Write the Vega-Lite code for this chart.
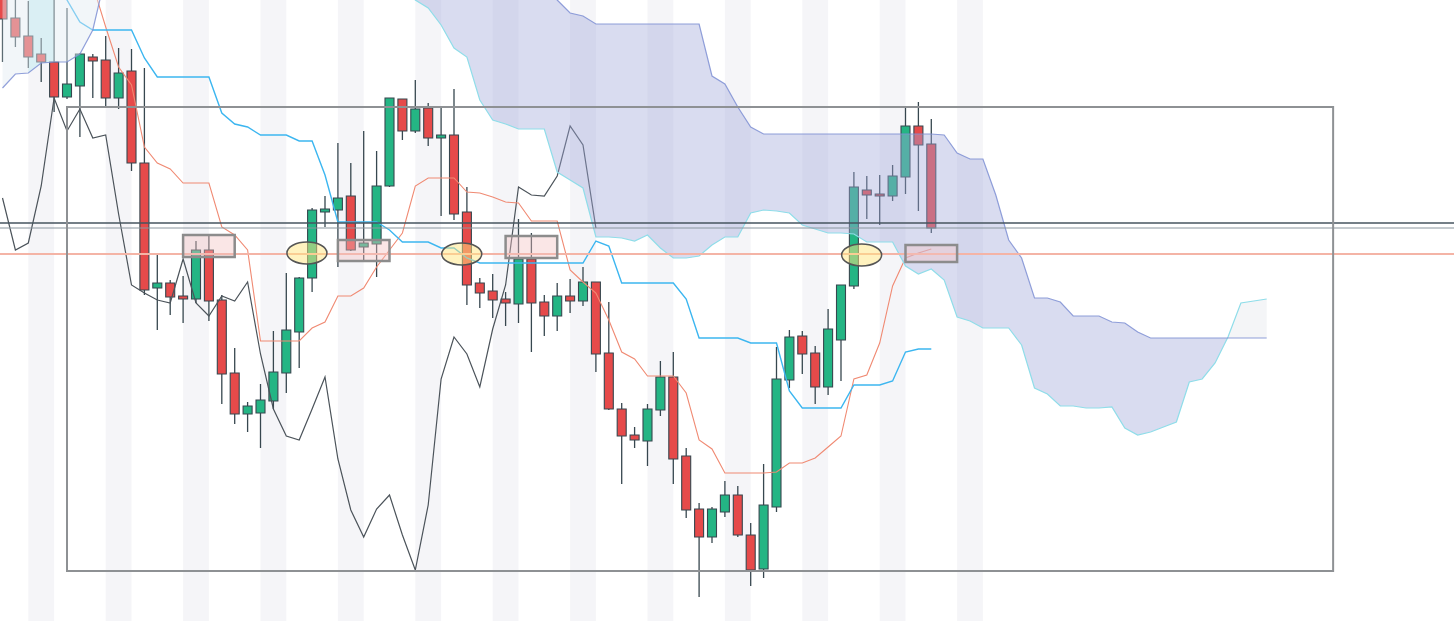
{
"$schema": "https://vega.github.io/schema/vega-lite/v6.json",
"width": 1454, "height": 621, "padding": 0, "autosize": {"type": "none"},
"background": "#ffffff",
"config": {"view": {"stroke": null}, "scale": {"continuousPadding": 0}},
"datasets": {
"bands": [{"s":2,"e":4},{"s":8,"e":10},{"s":14,"e":16},{"s":20,"e":22},{"s":26,"e":28},{"s":32,"e":34},{"s":38,"e":40},{"s":44,"e":46},{"s":50,"e":52},{"s":56,"e":58},{"s":62,"e":64},{"s":68,"e":70},{"s":74,"e":76}],
"candles": [
{"i":0,"o":-10,"h":-20,"l":62,"c":19},{"i":1,"o":18,"h":0,"l":47,"c":37},{"i":2,"o":36,"h":1,"l":68,"c":57},{"i":3,"o":54,"h":38,"l":82,"c":62},{"i":4,"o":62,"h":-5,"l":112,"c":97},
{"i":5,"o":97,"h":8,"l":99,"c":84},{"i":6,"o":86,"h":53,"l":137,"c":54},{"i":7,"o":57,"h":54,"l":98,"c":61},{"i":8,"o":60,"h":36,"l":108,"c":98},{"i":9,"o":98,"h":48,"l":109,"c":73},
{"i":10,"o":71,"h":49,"l":171,"c":163},{"i":11,"o":163,"h":68,"l":295,"c":290},{"i":12,"o":288,"h":254,"l":330,"c":283},{"i":13,"o":283,"h":280,"l":315,"c":297},{"i":14,"o":296,"h":276,"l":323,"c":299},
{"i":15,"o":299,"h":241,"l":303,"c":250},{"i":16,"o":250,"h":234,"l":321,"c":301},{"i":17,"o":300,"h":295,"l":404,"c":374},{"i":18,"o":373,"h":348,"l":424,"c":414},{"i":19,"o":414,"h":402,"l":432,"c":406},
{"i":20,"o":413,"h":384,"l":448,"c":400},{"i":21,"o":401,"h":331,"l":409,"c":372},{"i":22,"o":373,"h":273,"l":393,"c":330},{"i":23,"o":332,"h":277,"l":368,"c":278},{"i":24,"o":278,"h":208,"l":292,"c":210},
{"i":25,"o":212,"h":196,"l":227,"c":209},{"i":26,"o":210,"h":143,"l":267,"c":198},{"i":27,"o":196,"h":163,"l":251,"c":250},{"i":28,"o":247,"h":131,"l":260,"c":243},{"i":29,"o":244,"h":151,"l":277,"c":186},
{"i":30,"o":186,"h":98,"l":187,"c":98},{"i":31,"o":99,"h":99,"l":140,"c":131},{"i":32,"o":131,"h":80,"l":133,"c":109},{"i":33,"o":108,"h":103,"l":146,"c":138},{"i":34,"o":138,"h":107,"l":216,"c":135},
{"i":35,"o":135,"h":89,"l":220,"c":214},{"i":36,"o":212,"h":187,"l":305,"c":285},{"i":37,"o":283,"h":278,"l":308,"c":293},{"i":38,"o":291,"h":274,"l":318,"c":300},{"i":39,"o":299,"h":292,"l":326,"c":303},
{"i":40,"o":304,"h":219,"l":323,"c":259},{"i":41,"o":259,"h":233,"l":352,"c":303},{"i":42,"o":302,"h":295,"l":336,"c":316},{"i":43,"o":316,"h":283,"l":331,"c":296},{"i":44,"o":296,"h":279,"l":313,"c":301},
{"i":45,"o":301,"h":267,"l":306,"c":282},{"i":46,"o":282,"h":282,"l":372,"c":354},{"i":47,"o":353,"h":302,"l":410,"c":409},{"i":48,"o":409,"h":403,"l":484,"c":436},{"i":49,"o":435,"h":427,"l":448,"c":440},
{"i":50,"o":441,"h":404,"l":466,"c":409},{"i":51,"o":410,"h":361,"l":416,"c":377},{"i":52,"o":377,"h":352,"l":484,"c":459},{"i":53,"o":456,"h":448,"l":518,"c":510},{"i":54,"o":509,"h":503,"l":597,"c":537},
{"i":55,"o":537,"h":507,"l":543,"c":509},{"i":56,"o":512,"h":481,"l":517,"c":495},{"i":57,"o":495,"h":486,"l":537,"c":535},{"i":58,"o":535,"h":523,"l":586,"c":570},{"i":59,"o":569,"h":464,"l":578,"c":505},
{"i":60,"o":507,"h":347,"l":512,"c":379},{"i":61,"o":380,"h":330,"l":388,"c":337},{"i":62,"o":336,"h":331,"l":374,"c":354},{"i":63,"o":353,"h":346,"l":404,"c":387},{"i":64,"o":387,"h":309,"l":395,"c":329},
{"i":65,"o":340,"h":285,"l":381,"c":285},{"i":66,"o":286,"h":172,"l":289,"c":187},{"i":67,"o":190,"h":176,"l":219,"c":195},{"i":68,"o":194,"h":175,"l":225,"c":196},{"i":69,"o":196,"h":165,"l":201,"c":176},
{"i":70,"o":177,"h":107,"l":194,"c":126},{"i":71,"o":126,"h":102,"l":211,"c":145},{"i":72,"o":144,"h":119,"l":233,"c":228}],
"chikou": [
{"i":0,"v":198},{"i":1,"v":250},{"i":2,"v":243},{"i":3,"v":186},{"i":4,"v":98},{"i":5,"v":131},{"i":6,"v":109},{"i":7,"v":138},{"i":8,"v":135},{"i":9,"v":214},
{"i":10,"v":285},{"i":11,"v":293},{"i":12,"v":300},{"i":13,"v":303},{"i":14,"v":259},{"i":15,"v":303},{"i":16,"v":316},{"i":17,"v":296},{"i":18,"v":301},{"i":19,"v":282},
{"i":20,"v":354},{"i":21,"v":409},{"i":22,"v":436},{"i":23,"v":440},{"i":24,"v":409},{"i":25,"v":377},{"i":26,"v":459},{"i":27,"v":510},{"i":28,"v":537},{"i":29,"v":509},
{"i":30,"v":495},{"i":31,"v":535},{"i":32,"v":570},{"i":33,"v":505},{"i":34,"v":379},{"i":35,"v":337},{"i":36,"v":354},{"i":37,"v":387},{"i":38,"v":329},{"i":39,"v":285},
{"i":40,"v":187},{"i":41,"v":195},{"i":42,"v":196},{"i":43,"v":176},{"i":44,"v":126},{"i":45,"v":145},{"i":46,"v":228}],
"lines": [
{"i":4,"k":-30},{"i":5,"k":0},{"i":6,"t":-50,"k":22},{"i":7,"t":-15,"k":30},{"i":8,"t":27,"k":30},{"i":9,"t":67,"k":30},
{"i":10,"t":85,"k":30},{"i":11,"t":147,"k":58},{"i":12,"t":163,"k":77},{"i":13,"t":169,"k":77},{"i":14,"t":183,"k":77},{"i":15,"t":183,"k":77},{"i":16,"t":183,"k":77},
{"i":17,"t":227,"k":113},{"i":18,"t":235,"k":124},{"i":19,"t":250,"k":127},{"i":20,"t":341,"k":135},{"i":21,"t":341,"k":135},{"i":22,"t":341,"k":135},{"i":23,"t":341,"k":141},
{"i":24,"t":328,"k":141},{"i":25,"t":322,"k":175},{"i":26,"t":296,"k":222},{"i":27,"t":296,"k":222},{"i":28,"t":288,"k":222},{"i":29,"t":267,"k":222},{"i":30,"t":250,"k":230},
{"i":31,"t":233,"k":242},{"i":32,"t":186,"k":242},{"i":33,"t":178,"k":242},{"i":34,"t":178,"k":248},{"i":35,"t":178,"k":248},{"i":36,"t":192,"k":258},{"i":37,"t":193,"k":263},
{"i":38,"t":197,"k":263},{"i":39,"t":202,"k":263},{"i":40,"t":203,"k":263},{"i":41,"t":221,"k":263},{"i":42,"t":221,"k":263},{"i":43,"t":221,"k":263},{"i":44,"t":270,"k":263},
{"i":45,"t":282,"k":263},{"i":46,"t":293,"k":241},{"i":47,"t":320,"k":246},{"i":48,"t":352,"k":283},{"i":49,"t":359,"k":283},{"i":50,"t":376,"k":283},{"i":51,"t":376,"k":283},
{"i":52,"t":376,"k":283},{"i":53,"t":393,"k":299},{"i":54,"t":440,"k":338},{"i":55,"t":449,"k":338},{"i":56,"t":473,"k":338},{"i":57,"t":473,"k":338},{"i":58,"t":473,"k":343},
{"i":59,"t":473,"k":343},{"i":60,"t":472,"k":343},{"i":61,"t":463,"k":391},{"i":62,"t":463,"k":408},{"i":63,"t":458,"k":408},{"i":64,"t":447,"k":408},{"i":65,"t":436,"k":408},
{"i":66,"t":379,"k":385},{"i":67,"t":375,"k":385},{"i":68,"t":343,"k":385},{"i":69,"t":286,"k":381},{"i":70,"t":258,"k":352},{"i":71,"t":253,"k":349},{"i":72,"t":249,"k":349}],
"cloud": [
{"j":0,"a":-60,"b":88},{"j":1,"a":-60,"b":74},{"j":2,"a":-60,"b":73},{"j":3,"a":-60,"b":63},{"j":4,"a":-60,"b":62},{"j":5,"a":-60,"b":62},{"j":6,"a":-60,"b":54},{"j":7,"a":-60,"b":30},{"j":8,"a":-60,"b":-25},{"j":9,"a":-60,"b":-80},
{"j":10,"a":-60,"b":-80},{"j":20,"a":-60,"b":-80},{"j":30,"a":-60,"b":-80},{"j":31,"a":-20,"b":-80},{"j":32,"a":0,"b":-80},{"j":33,"a":8,"b":-80},{"j":34,"a":25,"b":-80},{"j":35,"a":48,"b":-80},
{"j":36,"a":57,"b":-80},{"j":37,"a":100,"b":-80},{"j":38,"a":120,"b":-80},{"j":39,"a":124,"b":-80},{"j":40,"a":129,"b":-80},{"j":41,"a":129,"b":-80},{"j":42,"a":129,"b":-15},{"j":43,"a":172,"b":0},
{"j":44,"a":180,"b":13},{"j":45,"a":188,"b":16},{"j":46,"a":237,"b":24},{"j":47,"a":237,"b":24},{"j":48,"a":238,"b":24},{"j":49,"a":241,"b":24},{"j":50,"a":235,"b":24},{"j":51,"a":248,"b":24},
{"j":52,"a":258,"b":24},{"j":53,"a":258,"b":24},{"j":54,"a":256,"b":24},{"j":55,"a":245,"b":76},{"j":56,"a":237,"b":84},{"j":57,"a":237,"b":107},{"j":58,"a":213,"b":127},{"j":59,"a":210,"b":134},
{"j":60,"a":211,"b":134},{"j":61,"a":213,"b":134},{"j":62,"a":225,"b":134},{"j":63,"a":229,"b":134},{"j":64,"a":233,"b":134},{"j":65,"a":233,"b":134},{"j":66,"a":234,"b":134},{"j":67,"a":242,"b":134},
{"j":68,"a":242,"b":134},{"j":69,"a":242,"b":134},{"j":70,"a":266,"b":134},{"j":71,"a":274,"b":134},{"j":72,"a":269,"b":134},{"j":73,"a":280,"b":135},{"j":74,"a":317,"b":153},{"j":75,"a":321,"b":159},
{"j":76,"a":328,"b":159},{"j":77,"a":328,"b":195},{"j":78,"a":328,"b":240},{"j":79,"a":345,"b":258},{"j":80,"a":388,"b":298},{"j":81,"a":394,"b":298},{"j":82,"a":406,"b":302},{"j":83,"a":406,"b":316},
{"j":84,"a":408,"b":316},{"j":85,"a":408,"b":316},{"j":86,"a":407,"b":322},{"j":87,"a":428,"b":323},{"j":88,"a":435,"b":332},{"j":89,"a":432,"b":338},{"j":90,"a":427,"b":338},{"j":91,"a":422,"b":338},
{"j":92,"a":382,"b":338},{"j":93,"a":379,"b":338},{"j":94,"a":363,"b":338},{"j":95,"a":337,"b":338},{"j":96,"a":303,"b":338},{"j":97,"a":301,"b":338},{"j":98,"a":299,"b":338}],
"hl1": [{"v":223}],
"hl2": [{"v":228}],
"hl3": [{"v":254}],
"frame": [{"x1":5,"x2":103.15,"y1":107,"y2":571}],
"zones": [{"x1":14,"x2":18,"y1":235,"y2":257},{"x1":26,"x2":30,"y1":240,"y2":261},{"x1":39,"x2":43,"y1":236,"y2":258},{"x1":70,"x2":74,"y1":245,"y2":262}],
"marks": [{"i":23.6,"v":253},{"i":35.6,"v":254},{"i":66.6,"v":255}]
},
"layer": [
{"data":{"name":"bands"},"mark":{"type":"rect","color":"#f5f5f8"},
 "encoding":{"x":{"field":"s","type":"quantitative","axis":null,"scale":{"domain":[-0.194,112.52],"nice":false,"zero":false,"padding":0}},"x2":{"field":"e"}}},
{"data":{"name":"cloud"},"transform":[{"filter":"datum.j >= 2 && datum.j <= 4"}],"mark":{"type":"area","color":"#d4f3f6","clip":true},
 "encoding":{"x":{"field":"j","type":"quantitative","axis":null,"scale":{"domain":[-0.194,112.52],"nice":false,"zero":false,"padding":0}},"y":{"field":"b","type":"quantitative","axis":null,"scale":{"domain":[0,621],"reverse":true,"nice":false,"zero":false,"padding":0}},"y2":{"field":"a"}}},
{"data":{"name":"candles"},"mark":{"type":"rule","color":"#37474f","strokeWidth":1.3,"clip":true},
 "encoding":{"x":{"field":"i","type":"quantitative","axis":null,"scale":{"domain":[-0.194,112.52],"nice":false,"zero":false,"padding":0}},"y":{"field":"h","type":"quantitative","axis":null,"scale":{"domain":[0,621],"reverse":true,"nice":false,"zero":false,"padding":0}},"y2":{"field":"l"}}},
{"data":{"name":"candles"},"mark":{"type":"bar","width":9,"stroke":"#37474f","strokeWidth":1.1,"clip":true},
 "encoding":{"x":{"field":"i","type":"quantitative","axis":null,"scale":{"domain":[-0.194,112.52],"nice":false,"zero":false,"padding":0}},"y":{"field":"o","type":"quantitative","axis":null,"scale":{"domain":[0,621],"reverse":true,"nice":false,"zero":false,"padding":0}},"y2":{"field":"c"},
  "fill":{"condition":{"test":"datum.c < datum.o","value":"#24b584"},"value":"#e64a4a"}}},
{"data":{"name":"chikou"},"mark":{"type":"line","color":"#4b535a","strokeWidth":1.2,"clip":true},
 "encoding":{"x":{"field":"i","type":"quantitative","axis":null,"scale":{"domain":[-0.194,112.52],"nice":false,"zero":false,"padding":0}},"y":{"field":"v","type":"quantitative","axis":null,"scale":{"domain":[0,621],"reverse":true,"nice":false,"zero":false,"padding":0}}}},
{"data":{"name":"lines"},"mark":{"type":"line","color":"#f08a73","strokeWidth":1.1,"clip":true},
 "encoding":{"x":{"field":"i","type":"quantitative","axis":null,"scale":{"domain":[-0.194,112.52],"nice":false,"zero":false,"padding":0}},"y":{"field":"t","type":"quantitative","axis":null,"scale":{"domain":[0,621],"reverse":true,"nice":false,"zero":false,"padding":0}}}},
{"data":{"name":"lines"},"mark":{"type":"line","color":"#3cb6f0","strokeWidth":1.4,"clip":true},
 "encoding":{"x":{"field":"i","type":"quantitative","axis":null,"scale":{"domain":[-0.194,112.52],"nice":false,"zero":false,"padding":0}},"y":{"field":"k","type":"quantitative","axis":null,"scale":{"domain":[0,621],"reverse":true,"nice":false,"zero":false,"padding":0}}}},
{"data":{"name":"cloud"},"transform":[{"filter":"datum.j <= 9"}],"mark":{"type":"area","color":"#e3ecf2","opacity":0.45,"clip":true},
 "encoding":{"x":{"field":"j","type":"quantitative","axis":null,"scale":{"domain":[-0.194,112.52],"nice":false,"zero":false,"padding":0}},"y":{"field":"a","type":"quantitative","axis":null,"scale":{"domain":[0,621],"reverse":true,"nice":false,"zero":false,"padding":0}},"y2":{"field":"b"}}},
{"data":{"name":"cloud"},"transform":[{"filter":"datum.j >= 31 && datum.j <= 95"}],"mark":{"type":"area","color":"#9fa8da","opacity":0.4,"clip":true},
 "encoding":{"x":{"field":"j","type":"quantitative","axis":null,"scale":{"domain":[-0.194,112.52],"nice":false,"zero":false,"padding":0}},"y":{"field":"a","type":"quantitative","axis":null,"scale":{"domain":[0,621],"reverse":true,"nice":false,"zero":false,"padding":0}},"y2":{"field":"b"}}},
{"data":{"name":"cloud"},"transform":[{"filter":"datum.j >= 95"}],"mark":{"type":"area","color":"#e6e8ee","opacity":0.45,"clip":true},
 "encoding":{"x":{"field":"j","type":"quantitative","axis":null,"scale":{"domain":[-0.194,112.52],"nice":false,"zero":false,"padding":0}},"y":{"field":"a","type":"quantitative","axis":null,"scale":{"domain":[0,621],"reverse":true,"nice":false,"zero":false,"padding":0}},"y2":{"field":"b"}}},
{"data":{"name":"cloud"},"mark":{"type":"line","color":"#8fdde9","strokeWidth":1.2,"clip":true},
 "encoding":{"x":{"field":"j","type":"quantitative","axis":null,"scale":{"domain":[-0.194,112.52],"nice":false,"zero":false,"padding":0}},"y":{"field":"a","type":"quantitative","axis":null,"scale":{"domain":[0,621],"reverse":true,"nice":false,"zero":false,"padding":0}}}},
{"data":{"name":"cloud"},"mark":{"type":"line","color":"#7e8fd4","strokeWidth":1.2,"opacity":0.85,"clip":true},
 "encoding":{"x":{"field":"j","type":"quantitative","axis":null,"scale":{"domain":[-0.194,112.52],"nice":false,"zero":false,"padding":0}},"y":{"field":"b","type":"quantitative","axis":null,"scale":{"domain":[0,621],"reverse":true,"nice":false,"zero":false,"padding":0}}}},
{"data":{"name":"hl1"},"mark":{"type":"rule","color":"#46555f","strokeWidth":1.4},
 "encoding":{"y":{"field":"v","type":"quantitative","axis":null,"scale":{"domain":[0,621],"reverse":true,"nice":false,"zero":false,"padding":0}}}},
{"data":{"name":"hl2"},"mark":{"type":"rule","color":"#8a969e","strokeWidth":1.1},
 "encoding":{"y":{"field":"v","type":"quantitative","axis":null,"scale":{"domain":[0,621],"reverse":true,"nice":false,"zero":false,"padding":0}}}},
{"data":{"name":"hl3"},"mark":{"type":"rule","color":"#f4b4a6","strokeWidth":2.2},
 "encoding":{"y":{"field":"v","type":"quantitative","axis":null,"scale":{"domain":[0,621],"reverse":true,"nice":false,"zero":false,"padding":0}}}},
{"data":{"name":"frame"},"mark":{"type":"rect","fillOpacity":0,"stroke":"#8e9194","strokeWidth":2},
 "encoding":{"x":{"field":"x1","type":"quantitative","axis":null,"scale":{"domain":[-0.194,112.52],"nice":false,"zero":false,"padding":0}},"x2":{"field":"x2"},"y":{"field":"y1","type":"quantitative","axis":null,"scale":{"domain":[0,621],"reverse":true,"nice":false,"zero":false,"padding":0}},"y2":{"field":"y2"}}},
{"data":{"name":"zones"},"mark":{"type":"rect","fill":"#f2c0c0","fillOpacity":0.4,"stroke":"#8c8c8c","strokeWidth":2.5},
 "encoding":{"x":{"field":"x1","type":"quantitative","axis":null,"scale":{"domain":[-0.194,112.52],"nice":false,"zero":false,"padding":0}},"x2":{"field":"x2"},"y":{"field":"y1","type":"quantitative","axis":null,"scale":{"domain":[0,621],"reverse":true,"nice":false,"zero":false,"padding":0}},"y2":{"field":"y2"}}},
{"data":{"name":"marks"},"mark":{"type":"point","shape":"M -1 0 A 1 0.55 0 1 0 1 0 A 1 0.55 0 1 0 -1 0 Z","size":1600,"filled":true,"fill":"#ffe680","fillOpacity":0.5,"stroke":"#555555","strokeWidth":1.5,"strokeOpacity":1,"opacity":1},
 "encoding":{"x":{"field":"i","type":"quantitative","axis":null,"scale":{"domain":[-0.194,112.52],"nice":false,"zero":false,"padding":0}},"y":{"field":"v","type":"quantitative","axis":null,"scale":{"domain":[0,621],"reverse":true,"nice":false,"zero":false,"padding":0}}}}
]
}
